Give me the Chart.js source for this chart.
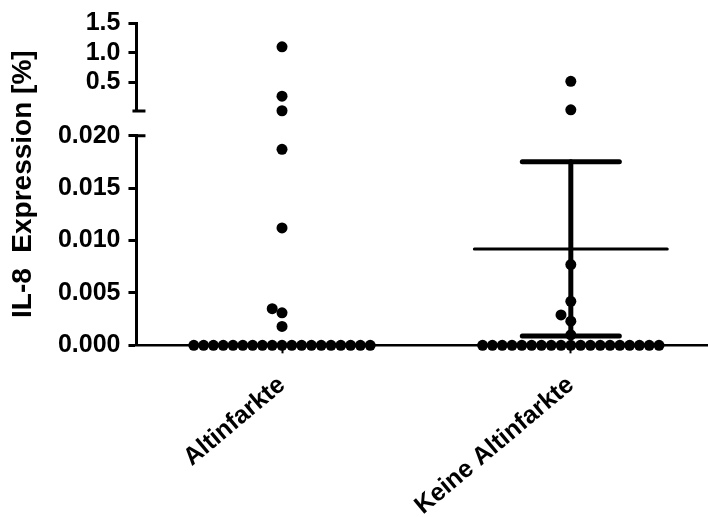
<!DOCTYPE html>
<html>
<head>
<meta charset="utf-8">
<script src="https://cdn.jsdelivr.net/npm/chart.js@4.4.1/dist/chart.umd.min.js"></script>
<style>
  html, body { margin: 0; padding: 0; background: #fff; }
</style>
</head>
<body>
<canvas id="cnv" width="708" height="517"></canvas>
<script>
const categories = ['Altinfarkte', 'Keine Altinfarkte'];
const yTitle = 'IL-8  Expression [%]';
const lowerTicks = [0, 0.005, 0.010, 0.015, 0.020];
const upperTicks = [0.5, 1.0, 1.5];

// values below the axis break (0 - 0.020) and above it (0.02 - 1.5)
const altLow = [0.0187, 0.0112, 0.0035, 0.0031, 0.0018,
  0, 0, 0, 0, 0, 0, 0, 0, 0, 0, 0, 0, 0, 0, 0, 0, 0, 0, 0];
const altHigh = [1.10, 0.27, 0.025];
const keineLow = [0.0077, 0.0042, 0.0029, 0.0023, 0.0010,
  0, 0, 0, 0, 0, 0, 0, 0, 0, 0, 0, 0, 0, 0, 0, 0, 0, 0, 0];
const keineHigh = [0.52, 0.04];
const keineMean = 0.0092;
const keineSD = 0.0083;

const FONT = '"Liberation Sans", Arial, sans-serif';
Chart.defaults.font.family = FONT;
Chart.defaults.color = '#000';

const STEP = 9.8;   // px between dots of a swarm row
const MIN_D = 9.5;  // px, dots closer than this get pushed aside

const dot = {
  pointRadius: 5.5, pointBackgroundColor: '#000', pointBorderWidth: 0,
  pointHoverRadius: 5.5, showLine: false, clip: false
};
const seg = {
  showLine: true, pointRadius: 0, borderColor: '#000', clip: false,
  borderCapStyle: 'round', yAxisID: 'y'
};

const axisCaps = {
  id: 'axisCaps',
  afterDraw(chart) {
    const ctx = chart.ctx;
    const top = chart.scales.yTop;
    const low = chart.scales.y;
    const ax = chart.chartArea.left;
    ctx.save();
    ctx.strokeStyle = '#000';
    ctx.lineWidth = 3;
    ctx.beginPath();
    ctx.moveTo(ax - 4, top.bottom);
    ctx.lineTo(ax + 9, top.bottom);
    const y20 = low.getPixelForValue(0.02);
    ctx.moveTo(ax, y20);
    ctx.lineTo(ax + 9, y20);
    ctx.stroke();
    ctx.restore();
  }
};

const chart = new Chart(document.getElementById('cnv'), {
  type: 'scatter',
  data: {
    datasets: [
      { ...dot, data: altLow.map(v => ({ x: 1, y: v })), yAxisID: 'y' },
      { ...dot, data: altHigh.map(v => ({ x: 1, y: v })), yAxisID: 'yTop' },
      { ...dot, data: keineLow.map(v => ({ x: 2, y: v })), yAxisID: 'y' },
      { ...dot, data: keineHigh.map(v => ({ x: 2, y: v })), yAxisID: 'yTop' },
      { ...seg, borderWidth: 3,
        data: [{ x: 2 - 0.334, y: keineMean }, { x: 2 + 0.334, y: keineMean }] },
      { ...seg, borderWidth: 5,
        data: [{ x: 2, y: keineMean - keineSD }, { x: 2, y: keineMean + keineSD }] },
      { ...seg, borderWidth: 5,
        data: [{ x: 2 - 0.168, y: keineMean + keineSD }, { x: 2 + 0.168, y: keineMean + keineSD }] },
      { ...seg, borderWidth: 5,
        data: [{ x: 2 - 0.168, y: keineMean - keineSD }, { x: 2 + 0.168, y: keineMean - keineSD }] }
    ]
  },
  options: {
    responsive: false,
    animation: false,
    events: [],
    layout: { autoPadding: false, padding: { top: 14.7, right: 0, bottom: -21, left: 0 } },
    plugins: {
      legend: { display: false },
      tooltip: { enabled: false },
      title: {
        display: true, text: yTitle, position: 'left', fullSize: false,
        color: '#000', font: { size: 28, weight: 'bold' },
        padding: { top: 6, bottom: 10.3 }
      }
    },
    scales: {
      x: {
        type: 'linear', position: 'bottom', min: 0.496, max: 2.475,
        afterBuildTicks: s => { s.ticks = [{ value: 1 }, { value: 2 }]; },
        afterFit: s => { s.paddingRight = 0; s.paddingLeft = 0; },
        ticks: {
          callback: v => categories[Math.round(v) - 1],
          autoSkip: false, minRotation: 40, maxRotation: 40,
          font: { size: 25, weight: 'bold' }, padding: 17, color: '#000'
        },
        grid: { drawOnChartArea: false, tickLength: 8, tickWidth: 2, tickColor: '#000' },
        border: { color: '#000', width: 2.5 }
      },
      yTop: {
        type: 'linear', position: 'left', stack: 'left', stackWeight: 88.3, weight: 3,
        min: 0.02, max: 1.5,
        afterBuildTicks: s => { s.ticks = upperTicks.map(v => ({ value: v })); },
        ticks: { callback: v => v.toFixed(1), font: { size: 25, weight: 'bold' }, padding: 8, color: '#000' },
        grid: { drawOnChartArea: false, tickLength: 8, tickWidth: 3, tickColor: '#000' },
        border: { color: '#000', width: 3 }
      },
      yGap: {
        type: 'linear', position: 'left', stack: 'left', stackWeight: 24.7, weight: 2,
        ticks: { display: false }, grid: { display: false }, border: { display: false }
      },
      y: {
        type: 'linear', position: 'left', stack: 'left', stackWeight: 210.3, weight: 1,
        min: 0, max: 0.02,
        afterBuildTicks: s => { s.ticks = lowerTicks.map(v => ({ value: v })); },
        ticks: { callback: v => v.toFixed(3), font: { size: 25, weight: 'bold' }, padding: 8, color: '#000' },
        grid: { drawOnChartArea: false, tickLength: 8, tickWidth: 3, tickColor: '#000' },
        border: { color: '#000', width: 3 }
      }
    }
  },
  plugins: [axisCaps]
});

// spread equal / close values sideways like a dot plot swarm
function swarm(groups, center) {
  const xs = chart.scales.x;
  const cx = xs.getPixelForValue(center);
  const placed = [];
  return groups.map(({ values, scale }) => {
    const out = new Array(values.length);
    const order = values.map((v, i) => i).sort((a, b) => values[a] - values[b]);
    for (const i of order) {
      const v = values[i];
      const py = scale.getPixelForValue(v);
      for (let k = 0; ; k++) {
        const slot = k === 0 ? 0 : (k % 2 ? -Math.ceil(k / 2) : k / 2);
        const px = cx + slot * STEP;
        if (placed.every(p => (p.x - px) ** 2 + (p.y - py) ** 2 >= MIN_D ** 2)) {
          placed.push({ x: px, y: py });
          out[i] = { x: xs.getValueForPixel(px), y: v };
          break;
        }
      }
    }
    return out;
  });
}

const [a1, a2] = swarm([{ values: altLow, scale: chart.scales.y }, { values: altHigh, scale: chart.scales.yTop }], 1);
const [k1, k2] = swarm([{ values: keineLow, scale: chart.scales.y }, { values: keineHigh, scale: chart.scales.yTop }], 2);
chart.data.datasets[0].data = a1;
chart.data.datasets[1].data = a2;
chart.data.datasets[2].data = k1;
chart.data.datasets[3].data = k2;
chart.update('none');
</script>
</body>
</html>
